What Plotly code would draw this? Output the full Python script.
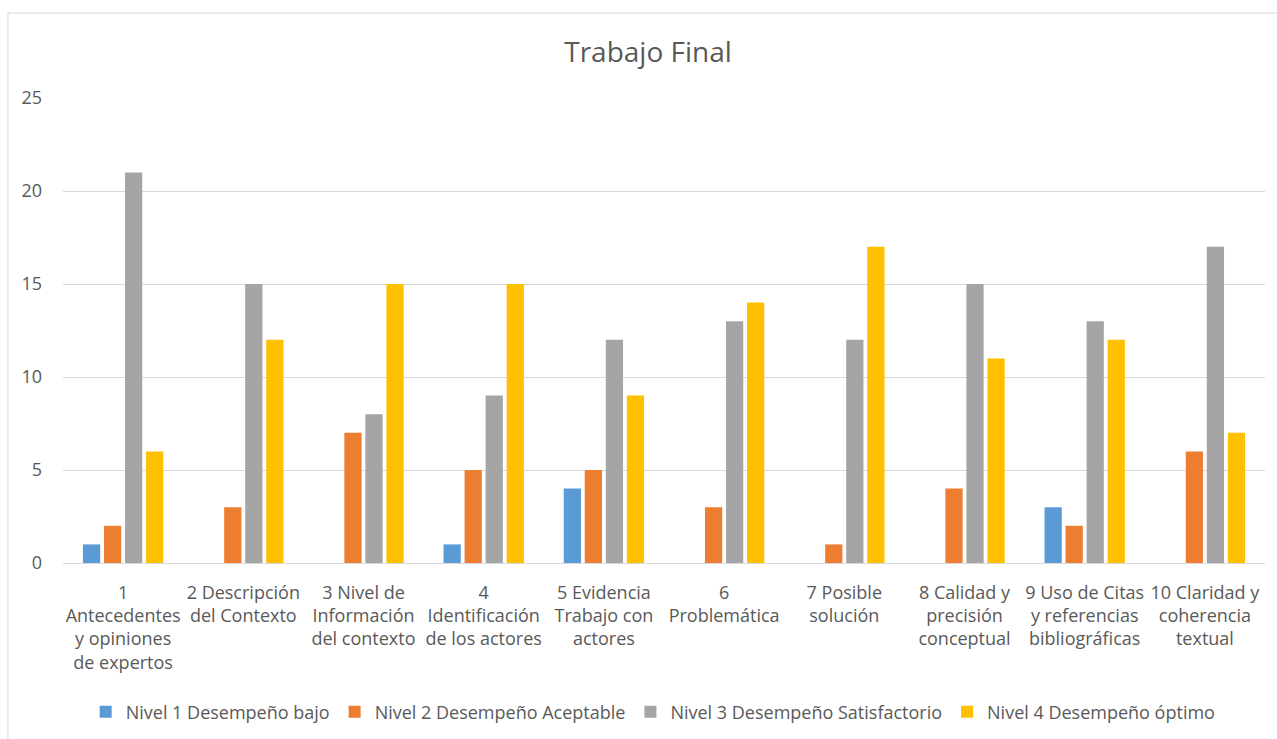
import plotly.graph_objects as go

# Criteria evaluated in the final assignment
categories = [
    "1<br>Antecedentes<br>y opiniones<br>de expertos",
    "2 Descripción<br>del Contexto",
    "3 Nivel de<br>Información<br>del contexto",
    "4<br>Identificación<br>de los actores",
    "5 Evidencia<br>Trabajo con<br>actores",
    "6<br>Problemática",
    "7 Posible<br>solución",
    "8 Calidad y<br>precisión<br>conceptual",
    "9 Uso de Citas<br>y referencias<br>bibliográficas",
    "10 Claridad y<br>coherencia<br>textual",
]

# Number of students at each performance level, per criterion
nivel1 = [1, 0, 0, 1, 4, 0, 0, 0, 3, 0]
nivel2 = [2, 3, 7, 5, 5, 3, 1, 4, 2, 6]
nivel3 = [21, 15, 8, 9, 12, 13, 12, 15, 13, 17]
nivel4 = [6, 12, 15, 15, 9, 14, 17, 11, 12, 7]

series_names = [
    "Nivel 1 Desempeño bajo",
    "Nivel 2 Desempeño Aceptable",
    "Nivel 3 Desempeño Satisfactorio",
    "Nivel 4 Desempeño óptimo",
]
series_values = [nivel1, nivel2, nivel3, nivel4]
colors = ["#5B9BD5", "#ED7D31", "#A5A5A5", "#FFC000"]

text_color = "#595959"
font_family = "Open Sans"

fig = go.Figure()
for name, vals, col in zip(series_names, series_values, colors):
    fig.add_trace(go.Bar(
        x=list(range(len(categories))),
        y=vals,
        name=name,
        marker=dict(color=col, line=dict(width=0)),
    ))

# Light outer frame of the chart area
frame = dict(color="#D9D9D9", width=1)
fig.add_shape(type="line", xref="paper", yref="paper",
              x0=-0.0458, x1=1.05, y0=1.1828, y1=1.1828, line=frame)
fig.add_shape(type="line", xref="paper", yref="paper",
              x0=-0.0458, x1=-0.0458, y0=1.1828, y1=-0.45, line=frame)

fig.update_layout(
    width=1277,
    height=739,
    margin=dict(l=63, r=12, t=98, b=176, autoexpand=False),
    paper_bgcolor="white",
    plot_bgcolor="white",
    barmode="group",
    bargap=0.30,
    bargroupgap=0.18,
    font=dict(family=font_family, color=text_color),
    title=dict(
        text="Trabajo Final",
        x=0.5075, xanchor="center",
        y=0.93, yanchor="middle", yref="container",
        font=dict(size=28, color=text_color, family=font_family),
    ),
    xaxis=dict(
        tickmode="array",
        tickvals=list(range(len(categories))),
        ticktext=categories,
        tickangle=0,
        tickfont=dict(size=18, color=text_color),
        ticklabelstandoff=13,
        showgrid=False,
        showline=True,
        linecolor="#D9D9D9",
        linewidth=1,
        range=[-0.5, 9.5],
        ticks="",
        automargin=False,
    ),
    yaxis=dict(
        range=[0, 25],
        dtick=5,
        tick0=0,
        showgrid=True,
        gridcolor="#D9D9D9",
        gridwidth=1,
        zeroline=False,
        showline=False,
        tickfont=dict(size=18, color=text_color),
        ticklabelstandoff=20,
        automargin=False,
    ),
    legend=dict(
        orientation="h",
        x=0.491, xanchor="center",
        y=0.0365, yanchor="middle", yref="container",
        font=dict(size=18, color=text_color),
        itemwidth=30,
        traceorder="normal",
    ),
    showlegend=True,
)

fig.write_html("out.html")
